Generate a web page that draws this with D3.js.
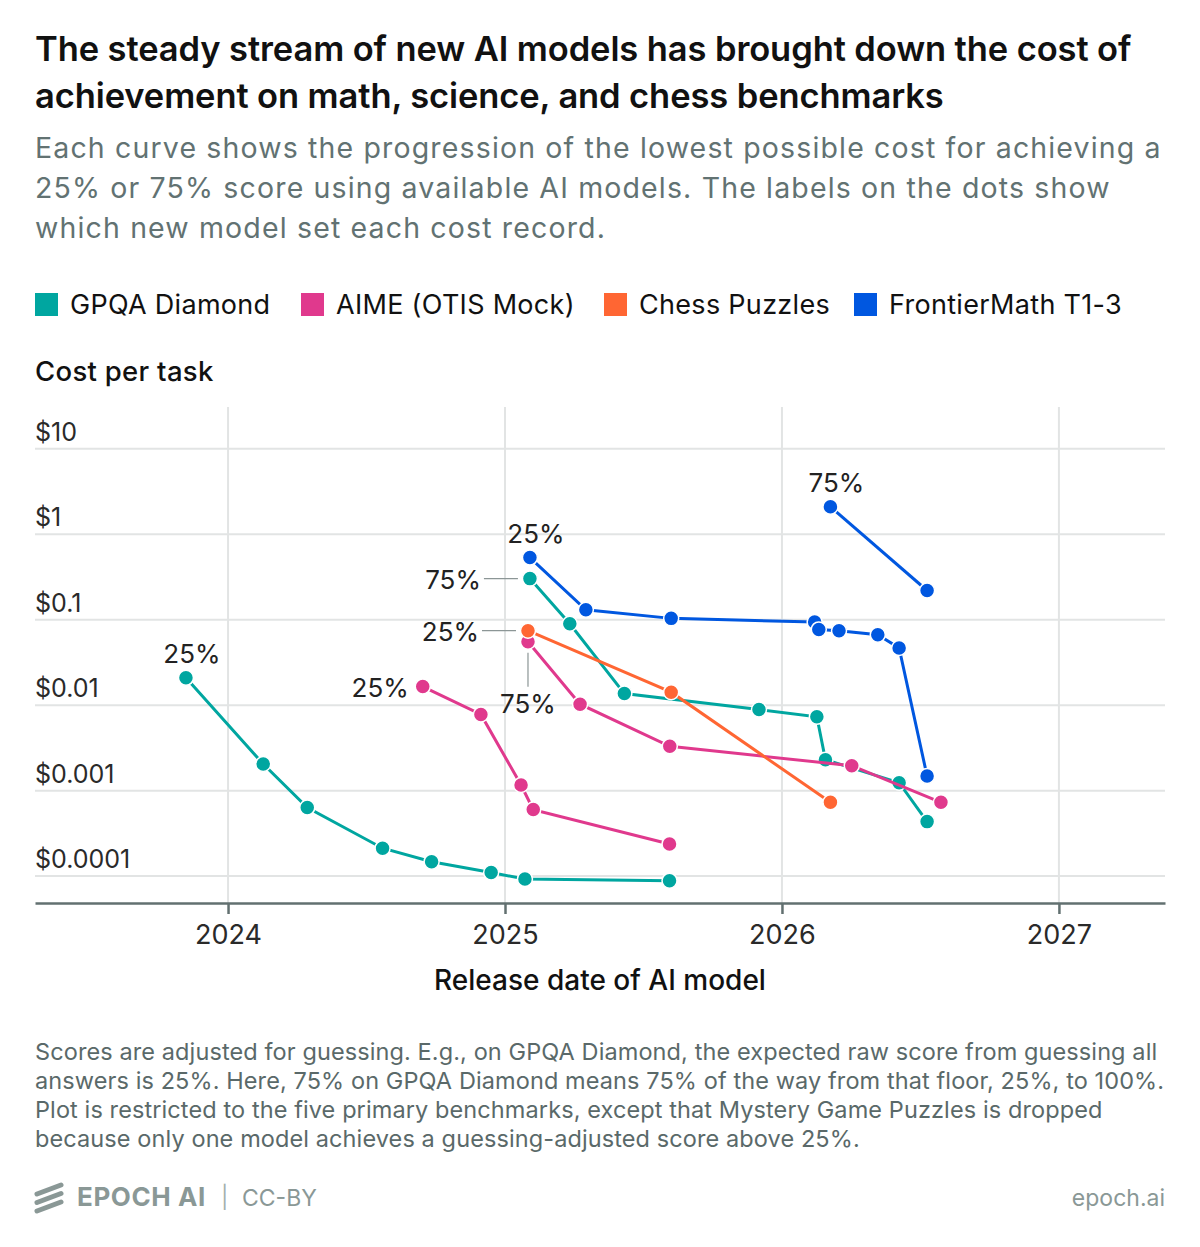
<!DOCTYPE html>
<html>
<head>
<meta charset="utf-8">
<title>Cost of achievement on benchmarks</title>
<script src="https://d3js.org/d3.v7.min.js"></script>
<style>
  body { margin: 0; background: #fff; }
  svg { display: block; font-family: Inter, "Noto Sans", sans-serif; }
</style>
</head>
<body>
<svg id="chart" width="1200" height="1247"></svg>
<script>
// Benchmarks (legend order) and colours
const benchmarks = ['GPQA Diamond', 'AIME (OTIS Mock)', 'Chess Puzzles', 'FrontierMath T1-3'];
const benchColors = ['#00a6a0', '#e0398d', '#ff6633', '#0057e0'];

// Release dates (decimal years) and cost per task (USD)
const gpqa25Dates = [2023.848, 2024.127, 2024.286, 2024.558, 2024.735, 2024.950, 2025.072, 2025.594];
const gpqa25Cost = [0.0209, 0.00205, 0.000634, 0.000212, 0.000147, 0.000110, 0.0000923, 0.0000883];

const gpqa75Dates = [2025.090, 2025.234, 2025.431, 2025.917, 2026.126, 2026.157, 2026.423, 2026.524];
const gpqa75Cost = [0.303, 0.0898, 0.01368, 0.00889, 0.00731, 0.0023, 0.00124, 0.000434];

const aime25Dates = [2024.703, 2024.913, 2025.058, 2025.102, 2025.594];
const aime25Cost = [0.01652, 0.00778, 0.001164, 0.0006, 0.000237];

const aime75Dates = [2025.083, 2025.271, 2025.595, 2026.252, 2026.574];
const aime75Cost = [0.0553, 0.01028, 0.0033, 0.00196, 0.00073];

const chess25Dates = [2025.083, 2025.600, 2026.175];
const chess25Cost = [0.0745, 0.0142, 0.00073];

const fm25Dates = [2025.090, 2025.292, 2025.600, 2026.118, 2026.133, 2026.206, 2026.346, 2026.423, 2026.524];
const fm25Cost = [0.534, 0.131, 0.1038, 0.094, 0.077, 0.0745, 0.0668, 0.0467, 0.00148];

const fm75Dates = [2026.175, 2026.524];
const fm75Cost = [2.10, 0.22];

// Axis ticks
const yTicks = [0.0001, 0.001, 0.01, 0.1, 1, 10];
const yTickLabels = ['$0.0001', '$0.001', '$0.01', '$0.1', '$1', '$10'];
const xTicks = [2024, 2025, 2026, 2027];

// Series table built from the arrays above
// label placement: 'above', 'left', 'leftLine', 'belowLine'
const series = [
  { bench: 0, threshold: '25%', dates: gpqa25Dates, cost: gpqa25Cost, place: 'above' },
  { bench: 0, threshold: '75%', dates: gpqa75Dates, cost: gpqa75Cost, place: 'leftLine' },
  { bench: 1, threshold: '25%', dates: aime25Dates, cost: aime25Cost, place: 'left' },
  { bench: 1, threshold: '75%', dates: aime75Dates, cost: aime75Cost, place: 'belowLine' },
  { bench: 2, threshold: '25%', dates: chess25Dates, cost: chess25Cost, place: 'leftLine' },
  { bench: 3, threshold: '25%', dates: fm25Dates, cost: fm25Cost, place: 'above' },
  { bench: 3, threshold: '75%', dates: fm75Dates, cost: fm75Cost, place: 'above' },
];

const svg = d3.select('#chart');

// Title + subtitle
const title = svg.append('g').attr('fill', '#111');
['The steady stream of new AI models has brought down the cost of',
 'achievement on math, science, and chess benchmarks'].forEach((t, i) => {
  title.append('text').attr('x', 35).attr('y', 61 + i * 47)
    .attr('font-size', 34.5).attr('font-weight', 600).attr('letter-spacing', -0.1).text(t);
});
const sub = svg.append('g').attr('fill', '#627272');
['Each curve shows the progression of the lowest possible cost for achieving a',
 '25% or 75% score using available AI models. The labels on the dots show',
 'which new model set each cost record.'].forEach((t, i) => {
  sub.append('text').attr('x', 35).attr('y', 158 + i * 40)
    .attr('font-size', 28.5).attr('letter-spacing', 1.15).text(t);
});

// Legend
const legendX = [35, 301, 604, 854];
const legend = svg.append('g');
benchmarks.forEach((b, i) => {
  legend.append('rect').attr('x', legendX[i]).attr('y', 293).attr('width', 23).attr('height', 23)
    .attr('fill', benchColors[i]);
  legend.append('text').attr('x', legendX[i] + 35).attr('y', 314)
    .attr('font-size', 27).attr('letter-spacing', 0.3).attr('fill', '#111').text(b);
});

svg.append('text').attr('x', 35).attr('y', 381).attr('font-size', 27.5).attr('letter-spacing', 0.3)
  .attr('font-weight', 500).attr('fill', '#111').text('Cost per task');

// Scales
const plot = { left: 35, right: 1165, top: 407, bottom: 903 };
const x = d3.scaleLinear().domain([2023.303, 2027.383]).range([plot.left, plot.right]);
const y = d3.scaleLog().domain([Math.pow(10, -4.315), Math.pow(10, 1.49)]).range([plot.bottom, plot.top]);

// Grid
const grid = svg.append('g').attr('stroke', '#e2e4e4').attr('stroke-width', 2);
grid.selectAll('.hg').data(yTicks).join('line')
  .attr('x1', plot.left).attr('x2', plot.right)
  .attr('y1', d => y(d)).attr('y2', d => y(d));
grid.selectAll('.vg').data(xTicks).join('line')
  .attr('x1', d => x(d)).attr('x2', d => x(d))
  .attr('y1', plot.top).attr('y2', plot.bottom);

// Y tick labels sit above their gridlines
svg.append('g').selectAll('text').data(yTicks).join('text')
  .attr('x', plot.left).attr('y', d => y(d) - 8)
  .attr('font-size', 25).attr('fill', '#2a2a2a')
  .text((d, i) => yTickLabels[i]);

// X axis
const xAxis = d3.axisBottom(x).tickValues(xTicks).tickFormat(d3.format('d'))
  .tickSizeInner(11).tickSizeOuter(0).tickPadding(11);
const xg = svg.append('g').attr('transform', `translate(0,${plot.bottom})`).call(xAxis);
xg.select('.domain').attr('stroke', '#627070').attr('stroke-width', 2.5);
xg.selectAll('.tick line').attr('stroke', '#627070').attr('stroke-width', 2.5);
xg.selectAll('.tick text').attr('font-size', 27).attr('fill', '#2a2a2a').attr('font-family', 'Inter, "Noto Sans", sans-serif');

svg.append('text').attr('x', 600).attr('y', 990).attr('text-anchor', 'middle')
  .attr('font-size', 28).attr('font-weight', 500).attr('fill', '#111').text('Release date of AI model');

// Series lines and dots
const line = d3.line().x(d => x(d[0])).y(d => y(d[1]));
const marks = svg.append('g');
series.forEach(s => {
  const pts = s.dates.map((d, i) => [d, s.cost[i]]);
  const g = marks.append('g');
  g.append('path').datum(pts).attr('d', line)
    .attr('fill', 'none').attr('stroke', benchColors[s.bench]).attr('stroke-width', 3);
  g.selectAll('circle').data(pts).join('circle')
    .attr('cx', d => x(d[0])).attr('cy', d => y(d[1])).attr('r', 7.5)
    .attr('fill', benchColors[s.bench]).attr('stroke', '#fff').attr('stroke-width', 1.5);
});

// Threshold labels on the first dot of each series
const labels = svg.append('g').attr('font-size', 26).attr('fill', '#222');
series.forEach(s => {
  const px = x(s.dates[0]), py = y(s.cost[0]);
  if (s.place === 'above') {
    labels.append('text').attr('x', px + 6).attr('y', py - 15).attr('text-anchor', 'middle').text(s.threshold);
  } else if (s.place === 'left') {
    labels.append('text').attr('x', px - 14).attr('y', py + 10).attr('text-anchor', 'end').text(s.threshold);
  } else if (s.place === 'leftLine') {
    labels.append('line').attr('x1', px - 46).attr('x2', px - 12).attr('y1', py).attr('y2', py)
      .attr('stroke', '#8c9696').attr('stroke-width', 1.2);
    labels.append('text').attr('x', px - 49).attr('y', py + 10).attr('text-anchor', 'end').text(s.threshold);
  } else if (s.place === 'belowLine') {
    labels.append('line').attr('x1', px).attr('x2', px).attr('y1', py + 11).attr('y2', py + 45)
      .attr('stroke', '#8c9696').attr('stroke-width', 1.2);
    labels.append('text').attr('x', px).attr('y', py + 71).attr('text-anchor', 'middle').text(s.threshold);
  }
});

// Footnote
const notes = svg.append('g').attr('fill', '#5a6969').attr('font-size', 23.5).attr('letter-spacing', 0.1);
['Scores are adjusted for guessing. E.g., on GPQA Diamond, the expected raw score from guessing all',
 'answers is 25%. Here, 75% on GPQA Diamond means 75% of the way from that floor, 25%, to 100%.',
 'Plot is restricted to the five primary benchmarks, except that Mystery Game Puzzles is dropped',
 'because only one model achieves a guessing-adjusted score above 25%.'].forEach((t, i) => {
  notes.append('text').attr('x', 35).attr('y', 1060 + i * 29).text(t);
});

// Branding
const brand = svg.append('g').attr('fill', '#8a9896');
const logo = brand.append('g').attr('stroke', '#8a9896').attr('stroke-width', 5).attr('stroke-linecap', 'round');
[0, 8.5, 17].forEach(o => {
  logo.append('line').attr('x1', 37).attr('y1', 1194 + o).attr('x2', 61).attr('y2', 1185 + o);
});
brand.append('text').attr('x', 77).attr('y', 1206).attr('font-size', 26).attr('font-weight', 700)
  .attr('letter-spacing', 0.6).text('EPOCH AI');
brand.append('text').attr('x', 221).attr('y', 1205).attr('font-size', 22).attr('fill', '#a4b0ae').text('|');
brand.append('text').attr('x', 242).attr('y', 1206).attr('font-size', 23).text('CC-BY');
brand.append('text').attr('x', 1165).attr('y', 1206).attr('font-size', 23).attr('text-anchor', 'end').text('epoch.ai');
</script>
</body>
</html>
